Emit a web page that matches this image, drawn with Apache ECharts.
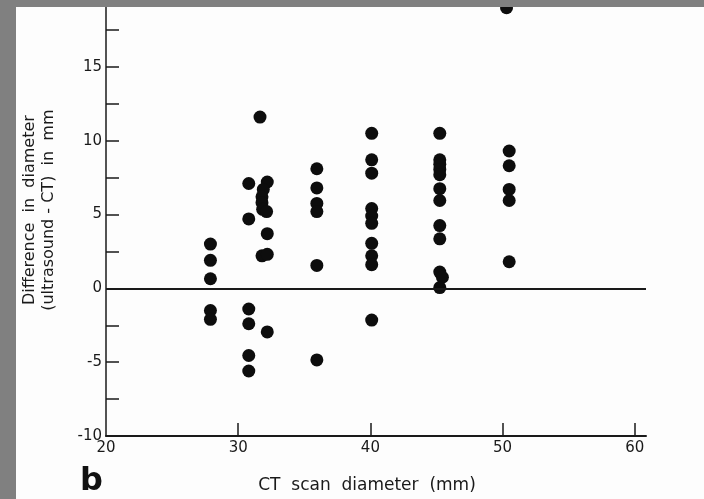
<!DOCTYPE html>
<html>
<head>
<meta charset="utf-8">
<script src="https://cdn.jsdelivr.net/npm/echarts@6/dist/echarts.min.js"></script>
<style>
  html, body { margin: 0; padding: 0; background: #fdfdfd; }
  #chart { width: 704px; height: 499px; }
</style>
</head>
<body>
<div id="chart"></div>
<script>
// CT scan diameter (mm) for each measured case
const ctDiameter = [
  27.9, 27.9, 27.9, 27.9, 27.9,
  30.8, 30.8, 30.8, 30.8, 30.8, 30.8,
  31.65,
  32.2, 31.9, 31.8, 31.8, 31.85, 32.15, 32.2, 31.8, 32.2, 32.2,
  35.95, 35.95, 35.95, 35.95, 35.95, 35.95,
  40.1, 40.1, 40.1, 40.1, 40.1, 40.1, 40.1, 40.1, 40.1, 40.1,
  45.25, 45.25, 45.25, 45.25, 45.25, 45.25, 45.25, 45.25, 45.25, 45.25, 45.45, 45.25,
  50.5, 50.5, 50.5, 50.5, 50.5, 50.3
];
// Difference in diameter (ultrasound - CT) in mm
const diameterDiff = [
  3.0, 1.9, 0.65, -1.5, -2.1,
  7.1, 4.7, -1.4, -2.4, -4.55, -5.6,
  11.6,
  7.2, 6.7, 6.2, 5.8, 5.35, 5.2, 3.7, 2.2, 2.3, -2.95,
  8.1, 6.8, 5.75, 5.2, 1.55, -4.85,
  10.5, 8.7, 7.8, 5.4, 4.9, 4.4, 3.05, 2.2, 1.6, -2.15,
  10.5, 8.7, 8.4, 8.05, 7.7, 6.75, 5.95, 4.25, 3.35, 1.1, 0.75, 0.05,
  9.3, 8.3, 6.7, 5.95, 1.8, 19.0
];
const xTickLabels = [20, 30, 40, 50, 60];
const xTicks = [30, 40, 50, 60];
const yTickLabels = [-10, -5, 0, 5, 10, 15];
const yTicks = [-7.5, -5, -2.5, 0, 2.5, 5, 7.5, 10, 12.5, 15, 17.5];

const points = ctDiameter.map((x, i) => [x, diameterDiff[i]]);

const ink = '#1a1a1a';
const font = 'DejaVu Sans';

const chart = echarts.init(document.getElementById('chart'), null, { renderer: 'canvas' });
chart.setOption({
  backgroundColor: '#fdfdfd',
  animation: false,
  grid: { left: 106, right: 58, top: 6.3, bottom: 62, containLabel: false },
  xAxis: {
    type: 'value',
    min: 20, max: 60.85,
    name: 'CT  scan  diameter  (mm)',
    nameLocation: 'middle',
    nameGap: 41,
    nameTextStyle: { color: ink, fontFamily: font, fontSize: 17, padding: [0, 18, 0, 0] },
    axisLine: { show: true, onZero: false, lineStyle: { color: ink, width: 2 } },
    axisTick: { show: true, inside: true, length: 13, customValues: xTicks, lineStyle: { color: ink, width: 1.5 } },
    axisLabel: { customValues: xTickLabels, color: ink, fontFamily: font, fontSize: 15, margin: 5 },
    splitLine: { show: false }
  },
  yAxis: {
    type: 'value',
    min: -10, max: 19.1,
    name: 'Difference  in  diameter\n(ultrasound - CT)  in  mm',
    nameLocation: 'middle',
    nameGap: 48,
    nameRotate: 90,
    nameTextStyle: { color: ink, fontFamily: font, fontSize: 16, lineHeight: 19, align: 'center', padding: [0, 0, 0, 22] },
    axisLine: { show: true, onZero: false, lineStyle: { color: ink, width: 1.5 } },
    axisTick: { show: true, inside: true, length: 13, customValues: yTicks, lineStyle: { color: ink, width: 1.5 } },
    axisLabel: { customValues: yTickLabels, color: ink, fontFamily: font, fontSize: 15, margin: 4 },
    splitLine: { show: false }
  },
  series: [{
    type: 'scatter',
    data: points,
    symbol: 'circle',
    symbolSize: 13,
    itemStyle: { color: '#0d0d0d', opacity: 1 },
    markLine: {
      silent: true,
      symbol: 'none',
      label: { show: false },
      lineStyle: { color: ink, width: 1.8, type: 'solid', opacity: 1 },
      data: [{ yAxis: 0 }]
    }
  }],
  graphic: [
    { type: 'text', left: 80, top: 466, style: { text: 'b', font: 'bold 32px "DejaVu Sans"', fill: '#111' }, z: 50 },
    { type: 'rect', left: 0, top: 0, shape: { width: 704, height: 7 }, style: { fill: '#808080' }, z: 100 },
    { type: 'rect', left: 0, top: 0, shape: { width: 16, height: 499 }, style: { fill: '#808080' }, z: 100 }
  ]
});
</script>
</body>
</html>
